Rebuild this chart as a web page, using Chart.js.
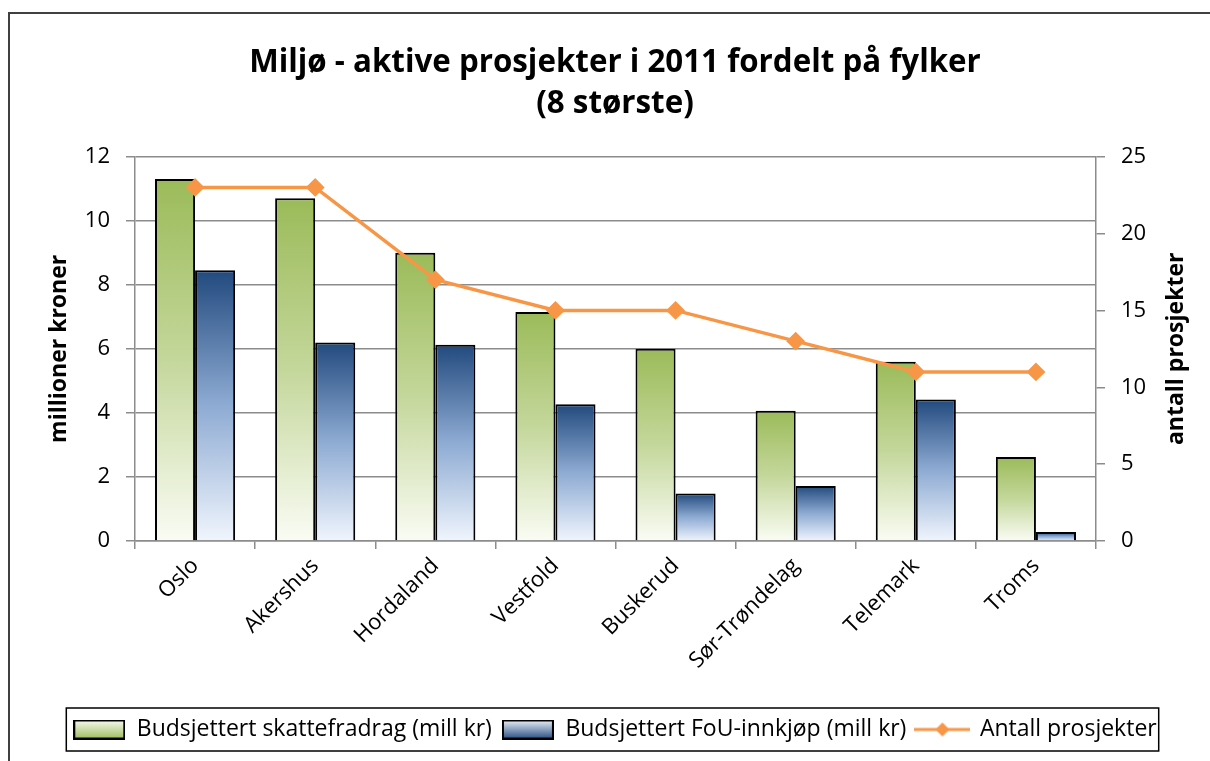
<!DOCTYPE html>
<html>
<head>
<meta charset="utf-8">
<script src="https://cdn.jsdelivr.net/npm/chart.js@4.4.0/dist/chart.umd.min.js"></script>
<style>
  html, body { margin: 0; padding: 0; background: #fff; }
  #wrap { width: 1210px; height: 761px; }
</style>
</head>
<body>
<div id="wrap"><canvas id="fylkeChart" width="1210" height="761"></canvas></div>
<script>
const fylker = ["Oslo", "Akershus", "Hordaland", "Vestfold", "Buskerud", "Sør-Trøndelag", "Telemark", "Troms"];
const skattefradrag = [11.3, 10.7, 9.0, 7.15, 6.0, 4.07, 5.6, 2.62];
const fouInnkjop = [8.45, 6.2, 6.13, 4.27, 1.48, 1.72, 4.42, 0.28];
const antallProsjekter = [23, 23, 17, 15, 15, 13, 11, 11];
const leftTicks = [0, 2, 4, 6, 8, 10, 12];
const rightTicks = [0, 5, 10, 15, 20, 25];

const FONT = "'Open Sans', Lato, sans-serif";
const greenStops = [[0, "#9bbb59"], [0.5, "#c4d79b"], [1, "#fafcf4"]];
const blueStops = [[0, "#224a7e"], [0.5, "#8eabd3"], [1, "#f0f5fd"]];
const orange = "#f79646";
const gridGrey = "#8c8c8c";

function barFill(stops) {
  return (ctx) => {
    const chart = ctx.chart;
    if (!chart.chartArea || ctx.type !== "data") return stops[0][1];
    const y = chart.scales.y;
    const top = y.getPixelForValue(ctx.raw);
    const bottom = y.getPixelForValue(0);
    const g = chart.ctx.createLinearGradient(0, top, 0, bottom);
    stops.forEach(([o, c]) => g.addColorStop(o, c));
    return g;
  };
}

// small legend symbols
function boxSymbol(stops) {
  const c = document.createElement("canvas");
  c.width = 52; c.height = 20;
  const x = c.getContext("2d");
  const g = x.createLinearGradient(0, 0, 0, 20);
  g.addColorStop(0, stops[2][1]);
  g.addColorStop(1, stops[0][1]);
  x.fillStyle = g;
  x.fillRect(1, 1, 50, 18);
  x.strokeStyle = "#000";
  x.lineWidth = 2;
  x.strokeRect(1, 1, 50, 18);
  return c;
}
function lineSymbol() {
  const c = document.createElement("canvas");
  c.width = 56; c.height = 16;
  const x = c.getContext("2d");
  x.strokeStyle = orange;
  x.lineWidth = 3;
  x.beginPath(); x.moveTo(0, 8); x.lineTo(56, 8); x.stroke();
  x.fillStyle = orange;
  x.beginPath(); x.moveTo(28, 1); x.lineTo(35, 8); x.lineTo(28, 15); x.lineTo(21, 8); x.closePath(); x.fill();
  return c;
}

const extras = {
  id: "extras",
  beforeDraw(chart) {
    const c = chart.ctx;
    c.save();
    c.fillStyle = "#fff";
    c.fillRect(0, 0, chart.width, chart.height);
    c.strokeStyle = "#404040";
    c.lineWidth = 2;
    c.beginPath();
    c.moveTo(9, chart.height); c.lineTo(9, 13); c.lineTo(chart.width, 13);
    c.stroke();
    c.restore();
  },
  afterDraw(chart) {
    const c = chart.ctx;
    const lg = chart.legend;
    c.save();
    // legend frame
    if (lg && lg.legendHitBoxes.length) {
      const boxes = lg.legendHitBoxes;
      const l = Math.min(...boxes.map(b => b.left)) - 7;
      const r = Math.max(...boxes.map(b => b.left + b.width)) + 2;
      c.strokeStyle = "#000";
      c.lineWidth = 1.5;
      c.strokeRect(l, lg.top, r - l, lg.height);
    }
    // right axis title, reading bottom to top
    const y2 = chart.scales.y2;
    const area = chart.chartArea;
    c.translate(y2.right - 34, (area.top + area.bottom) / 2);
    c.rotate(-Math.PI / 2);
    c.font = "bold 23px " + FONT;
    c.fillStyle = "#000";
    c.textAlign = "center";
    c.textBaseline = "middle";
    c.fillText("antall prosjekter", 0, 0);
    c.restore();
  }
};

const chart = new Chart(document.getElementById("fylkeChart").getContext("2d"), {
  data: {
    labels: fylker,
    datasets: [
      {
        type: "line",
        label: "Antall prosjekter",
        data: antallProsjekter,
        yAxisID: "y2",
        borderColor: orange,
        backgroundColor: orange,
        borderWidth: 3.5,
        pointStyle: "rectRot",
        pointRadius: 7,
        pointBackgroundColor: orange,
        pointBorderColor: orange,
        order: 0,
      },
      {
        type: "bar",
        label: "Budsjettert skattefradrag (mill kr)",
        data: skattefradrag,
        yAxisID: "y",
        backgroundColor: barFill(greenStops),
        borderColor: "#000",
        borderWidth: 2,
        order: 1,
      },
      {
        type: "bar",
        label: "Budsjettert FoU-innkjøp (mill kr)",
        data: fouInnkjop,
        yAxisID: "y",
        backgroundColor: barFill(blueStops),
        borderColor: "#000",
        borderWidth: 2,
        order: 1,
      },
    ],
  },
  options: {
    responsive: false,
    animation: false,
    layout: { padding: { top: 0, bottom: 10, left: 20, right: 0 } },
    datasets: { bar: { categoryPercentage: 0.667, barPercentage: 1 } },
    plugins: {
      tooltip: { enabled: false },
      title: {
        display: true,
        text: ["Miljø - aktive prosjekter i 2011 fordelt på fylker", "(8 største)"],
        color: "#000",
        font: { family: FONT, size: 31.3, weight: "bold", lineHeight: 1.32 },
        padding: { top: 42, bottom: 32 },
      },
      legend: {
        position: "bottom",
        labels: {
          color: "#000",
          font: { family: FONT, size: 23 },
          usePointStyle: true,
          pointStyleWidth: 52,
          padding: 10,
          sort: (a, b) => (a.datasetIndex === 0 ? 1 : 0) - (b.datasetIndex === 0 ? 1 : 0),
          generateLabels(chart) {
            const sym = [lineSymbol(), boxSymbol(greenStops), boxSymbol(blueStops)];
            return chart.data.datasets.map((ds, i) => ({
              text: ds.label,
              datasetIndex: i,
              pointStyle: sym[i],
              fontColor: "#000",
              hidden: false,
              lineWidth: 0,
            }));
          },
        },
      },
    },
    scales: {
      x: {
        offset: true,
        grid: { offset: true, drawOnChartArea: false, drawTicks: true, tickLength: 8, color: gridGrey, lineWidth: 1.5 },
        border: { color: gridGrey, width: 1.5 },
        ticks: { color: "#000", font: { family: FONT, size: 22 }, maxRotation: 45, minRotation: 45, padding: 4 },
        afterFit(scale) { scale.height = 167; },
      },
      y: {
        position: "left",
        min: 0,
        max: 12,
        afterBuildTicks(scale) { scale.ticks = leftTicks.map(v => ({ value: v })); },
        grid: { color: gridGrey, lineWidth: 1.5, tickLength: 9 },
        border: { color: gridGrey, width: 1.5 },
        ticks: { color: "#000", font: { family: FONT, size: 22 }, padding: 16 },
        title: {
          display: true,
          text: "millioner kroner",
          color: "#000",
          font: { family: FONT, size: 23, weight: "bold" },
          padding: { top: 26, bottom: 0 },
        },
        afterFit(scale) { scale.width = 115; },
      },
      y2: {
        position: "right",
        min: 0,
        max: 25,
        afterBuildTicks(scale) { scale.ticks = rightTicks.map(v => ({ value: v })); },
        grid: { drawOnChartArea: false, color: gridGrey, lineWidth: 1.5, tickLength: 9 },
        border: { color: gridGrey, width: 1.5 },
        ticks: { color: "#000", font: { family: FONT, size: 22 }, padding: 16 },
        afterFit(scale) { scale.width = 114; },
      },
    },
  },
  plugins: [extras],
});
</script>
</body>
</html>
